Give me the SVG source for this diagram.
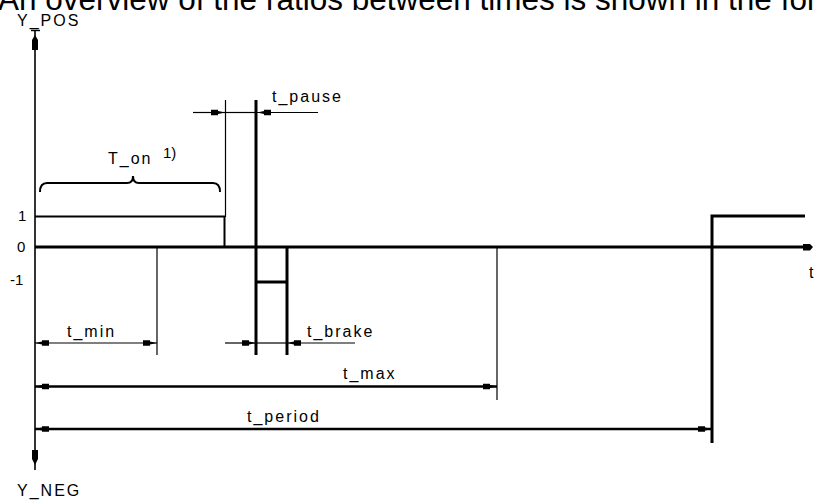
<svg xmlns="http://www.w3.org/2000/svg" width="814" height="500" viewBox="0 0 814 500">
<style>
.lbl{font-family:"Liberation Sans",Arial,sans-serif;font-size:16px;letter-spacing:2px;fill:#000}
.num{font-family:"Liberation Sans",Arial,sans-serif;font-size:15px;fill:#000}
.head{font-family:"Liberation Sans",Arial,sans-serif;font-size:31.5px;fill:#000}
.ln{stroke:#000;fill:none;stroke-linecap:butt}
.thin{stroke-width:1.2}
.mid{stroke-width:2}
.thick{stroke-width:3}
</style>
<defs>
<marker id="arr" markerUnits="userSpaceOnUse" viewBox="-16 -5 18 10" markerWidth="18" markerHeight="10" refX="0" refY="0" orient="auto-start-reverse">
<path d="M0,0 L-7,-1.5 L-7,-2.7 L-14,-2.7 L-14,2.7 L-7,2.7 L-7,1.5 Z" fill="#000"/>
</marker>
</defs>
<rect width="814" height="500" fill="#fff"/>
<text class="head" x="-2" y="9.5">An overview of the ratios between times is shown in the following</text>

<g id="axes">
<line class="ln" x1="35" y1="30" x2="35" y2="470" stroke-width="1.6"/>
<line class="ln" x1="31" y1="30.5" x2="40" y2="30.5" stroke-width="1.4"/>
<path d="M35,35 L38,40 L38,50 L32,50 L32,40 Z" fill="#000"/>
<path d="M35,465 L38,459 L38,450 L32,450 L32,459 Z" fill="#000"/>
<line class="ln thick" x1="35" y1="247" x2="808" y2="247"/>
<path d="M813,247 L810,244 L803,244 L803,250.5 L810,250.5 Z" fill="#000"/>
</g>

<g id="signal">
<path class="ln mid" d="M35,216.5 L224.5,216.5 L224.5,247"/>
<line class="ln thin" x1="225.5" y1="100" x2="225.5" y2="217"/>
<line class="ln thick" x1="256" y1="100" x2="256" y2="355"/>
<line class="ln thick" x1="287" y1="247" x2="287" y2="355"/>
<line class="ln thick" x1="256" y1="282" x2="287" y2="282"/>
<path class="ln thick" d="M712,443 L712,216 L805,216"/>
<line class="ln thin" x1="157" y1="247" x2="157" y2="355"/>
<line class="ln thin" x1="497" y1="247" x2="497" y2="400"/>
</g>

<g id="connectors">
<line class="ln thin" x1="193" y1="112.5" x2="225" y2="112.5" marker-end="url(#arr)"/>
<line class="ln thin" x1="225" y1="112.5" x2="256" y2="112.5"/>
<line class="ln thin" x1="318" y1="112.5" x2="257" y2="112.5" marker-end="url(#arr)"/>
<path class="ln mid" d="M40,192 Q40,183 47,183 L127,183 Q133,183 133,176 Q133,183 139,183 L213,183 Q220,183 220,192"/>
<line class="ln thin" x1="35" y1="343" x2="157" y2="343" marker-start="url(#arr)" marker-end="url(#arr)"/>
<line class="ln thin" x1="225" y1="343" x2="256" y2="343" marker-end="url(#arr)"/>
<line class="ln thin" x1="256" y1="343" x2="287" y2="343"/>
<line class="ln thin" x1="355" y1="343" x2="287" y2="343" marker-end="url(#arr)"/>
<line class="ln" stroke-width="2.4" x1="35" y1="386.5" x2="497" y2="386.5" marker-start="url(#arr)" marker-end="url(#arr)"/>
<line class="ln" stroke-width="2.4" x1="35" y1="429" x2="712" y2="429" marker-start="url(#arr)" marker-end="url(#arr)"/>
</g>

<g id="labels">
<text class="lbl" x="17" y="26">Y_POS</text>
<text class="lbl" x="17" y="496">Y_NEG</text>
<text class="num" x="18" y="221">1</text>
<text class="num" x="17" y="252">0</text>
<text class="num" x="10" y="285">-1</text>
<text class="lbl" x="809" y="278">t</text>
<text class="lbl" x="108" y="164">T_on</text>
<text class="num" x="163" y="158" font-size="9">1)</text>
<text class="lbl" x="272" y="102">t_pause</text>
<text class="lbl" x="67" y="337">t_min</text>
<text class="lbl" x="307" y="337">t_brake</text>
<text class="lbl" x="343" y="379">t_max</text>
<text class="lbl" x="247" y="422">t_period</text>
</g>
</svg>
